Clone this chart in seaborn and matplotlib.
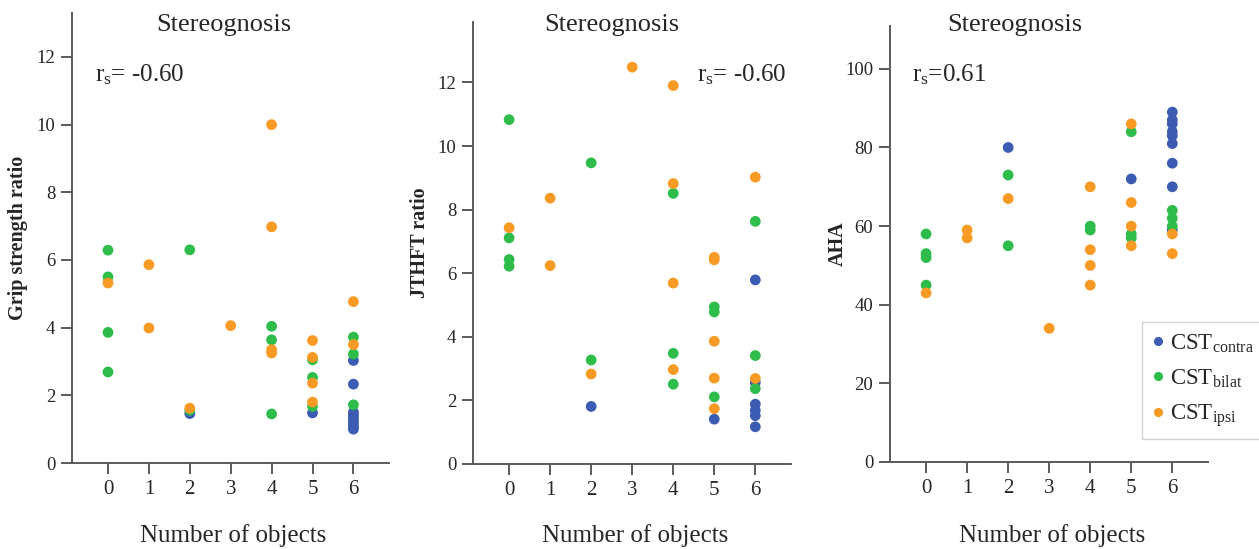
import numpy as np
import pandas as pd
import matplotlib
matplotlib.use('Agg')
import matplotlib.pyplot as plt
import seaborn as sns

# group order / colours
groups = ['contra', 'bilat', 'ipsi']
group_labels = ['CST$_\\mathrm{contra}$', 'CST$_\\mathrm{bilat}$', 'CST$_\\mathrm{ipsi}$']
palette = ['#3c5cb4', '#2ebd4a', '#f89a24']
x_ticks = [0, 1, 2, 3, 4, 5, 6]

# Grip strength ratio
grip_contra_x = [2, 5, 6, 6, 6, 6, 6, 6, 6, 6, 6]
grip_contra_y = [1.46, 1.48, 3.03, 2.33, 1.50, 1.42, 1.33, 1.25, 1.17, 1.08, 1.00]
grip_bilat_x = [0, 0, 0, 0, 2, 2, 4, 4, 4, 5, 5, 5, 6, 6, 6]
grip_bilat_y = [6.29, 5.50, 3.86, 2.69, 6.30, 1.56, 4.04, 3.64, 1.45, 3.05, 2.53, 1.67, 3.72, 3.22, 1.72]
grip_ipsi_x = [0, 1, 1, 2, 3, 4, 4, 4, 4, 5, 5, 5, 5, 6, 6]
grip_ipsi_y = [5.32, 5.86, 3.99, 1.62, 4.06, 10.0, 6.98, 3.35, 3.25, 3.62, 3.12, 2.36, 1.80, 4.77, 3.50]

# JTHFT ratio
jthft_contra_x = [2, 5, 6, 6, 6, 6, 6, 6]
jthft_contra_y = [1.81, 1.41, 5.79, 2.56, 1.88, 1.69, 1.52, 1.17]
jthft_bilat_x = [0, 0, 0, 0, 2, 2, 4, 4, 4, 5, 5, 5, 6, 6, 6]
jthft_bilat_y = [10.83, 7.11, 6.43, 6.22, 9.47, 3.27, 8.51, 3.48, 2.51, 4.94, 4.78, 2.11, 7.63, 3.41, 2.37]
jthft_ipsi_x = [0, 1, 1, 2, 3, 4, 4, 4, 4, 5, 5, 5, 5, 5, 6, 6]
jthft_ipsi_y = [7.43, 8.36, 6.24, 2.83, 12.48, 11.9, 8.82, 5.69, 2.97, 6.50, 6.42, 3.86, 2.70, 1.74, 9.02, 2.69]

# AHA
aha_contra_x = [2, 5, 6, 6, 6, 6, 6, 6, 6, 6, 6]
aha_contra_y = [80, 72, 89, 87, 86, 84, 83, 81, 76, 70, 59]
aha_bilat_x = [0, 0, 0, 0, 2, 2, 4, 4, 5, 5, 5, 6, 6, 6]
aha_bilat_y = [58, 53, 52, 45, 73, 55, 60, 59, 84, 58, 57, 64, 62, 60]
aha_ipsi_x = [0, 1, 1, 2, 3, 4, 4, 4, 4, 5, 5, 5, 5, 6, 6]
aha_ipsi_y = [43, 59, 57, 67, 34, 70, 54, 50, 45, 86, 66, 60, 55, 58, 53]

r_texts = ['r$_\\mathrm{s}$= -0.60', 'r$_\\mathrm{s}$= -0.60', 'r$_\\mathrm{s}$=0.61']
y_labels = ['Grip strength ratio', 'JTHFT ratio', 'AHA']


def make_df(xs, ys):
    frames = []
    for g, x, y in zip(group_labels, xs, ys):
        frames.append(pd.DataFrame({'x': x, 'y': y, 'group': g}))
    return pd.concat(frames, ignore_index=True)


panels = [
    make_df([grip_contra_x, grip_bilat_x, grip_ipsi_x], [grip_contra_y, grip_bilat_y, grip_ipsi_y]),
    make_df([jthft_contra_x, jthft_bilat_x, jthft_ipsi_x], [jthft_contra_y, jthft_bilat_y, jthft_ipsi_y]),
    make_df([aha_contra_x, aha_bilat_x, aha_ipsi_x], [aha_contra_y, aha_bilat_y, aha_ipsi_y]),
]

sns.set_style('white')
plt.rcParams['font.family'] = ['Liberation Serif', 'DejaVu Serif']
plt.rcParams['mathtext.fontset'] = 'custom'
plt.rcParams['mathtext.rm'] = 'Liberation Serif'
plt.rcParams['mathtext.it'] = 'Liberation Serif:italic'

W, H = 1259, 549
fig = plt.figure(figsize=(W / 100, H / 100), dpi=100)

# axes boxes in pixels: left, right, bottom, top
boxes = [(72, 389, 463, 13), (473, 791, 464, 22), (890, 1208, 462, 26)]
ylims = [(0, 13.3), (0, 13.9), (0, 110.9)]
yticks = [[0, 2, 4, 6, 8, 10, 12], [0, 2, 4, 6, 8, 10, 12], [0, 20, 40, 60, 80, 100]]
title_x = [224, 612, 1015]
r_pos = [(95, 75), (697, 75), (912, 75)]
ylabel_x = [18, 420, 838]
spine_col = '#5a5a5a'

for i, df in enumerate(panels):
    l, r, b, t = boxes[i]
    ax = fig.add_axes([l / W, 1 - b / H, (r - l) / W, (b - t) / H])
    sns.scatterplot(data=df, x='x', y='y', hue='group', hue_order=group_labels,
                    palette=palette, s=60, linewidth=0, edgecolor='none',
                    ax=ax, legend=(i == 2), zorder=3)
    ax.set_xlim(-0.88, 6.87)
    ax.set_ylim(*ylims[i])
    ax.set_xticks(x_ticks)
    ax.set_yticks(yticks[i])
    ax.set_xlabel('')
    ax.set_ylabel('')
    for s in ['top', 'right']:
        ax.spines[s].set_visible(False)
    for s in ['left', 'bottom']:
        ax.spines[s].set_color(spine_col)
        ax.spines[s].set_linewidth(1.4)
    ax.tick_params(axis='both', direction='out', length=8, width=1.4, color=spine_col,
                   labelsize=13.5, pad=4, left=True, bottom=True)
    ax.tick_params(axis='x', labelsize=15)

    fig.text(title_x[i] / W, 1 - 25 / H, 'Stereognosis', fontsize=19, ha='center', va='center')
    fig.text(r_pos[i][0] / W, 1 - r_pos[i][1] / H, r_texts[i], fontsize=18, ha='left', va='center')
    fig.text(ylabel_x[i] / W, 1 - ((b + t) / 2) / H, y_labels[i], fontsize=14.5,
             fontweight='bold', rotation=90, ha='center', va='center')
    fig.text(((l + r) / 2 + 3) / W, 1 - 536 / H, 'Number of objects', fontsize=18,
             ha='center', va='center')

    if i == 2:
        handles, labels = ax.get_legend_handles_labels()
        ax.legend(handles, labels, loc='upper left',
                  bbox_to_anchor=(1142 / W, 1 - 322 / H), bbox_transform=fig.transFigure,
                  frameon=True, fancybox=False, edgecolor='#c8c8c8', fontsize=16.5,
                  handlelength=0.5, handletextpad=0.25, labelspacing=0.55,
                  borderpad=0.45, borderaxespad=0, markerscale=0.85)

fig.savefig('out.png', dpi=100)
